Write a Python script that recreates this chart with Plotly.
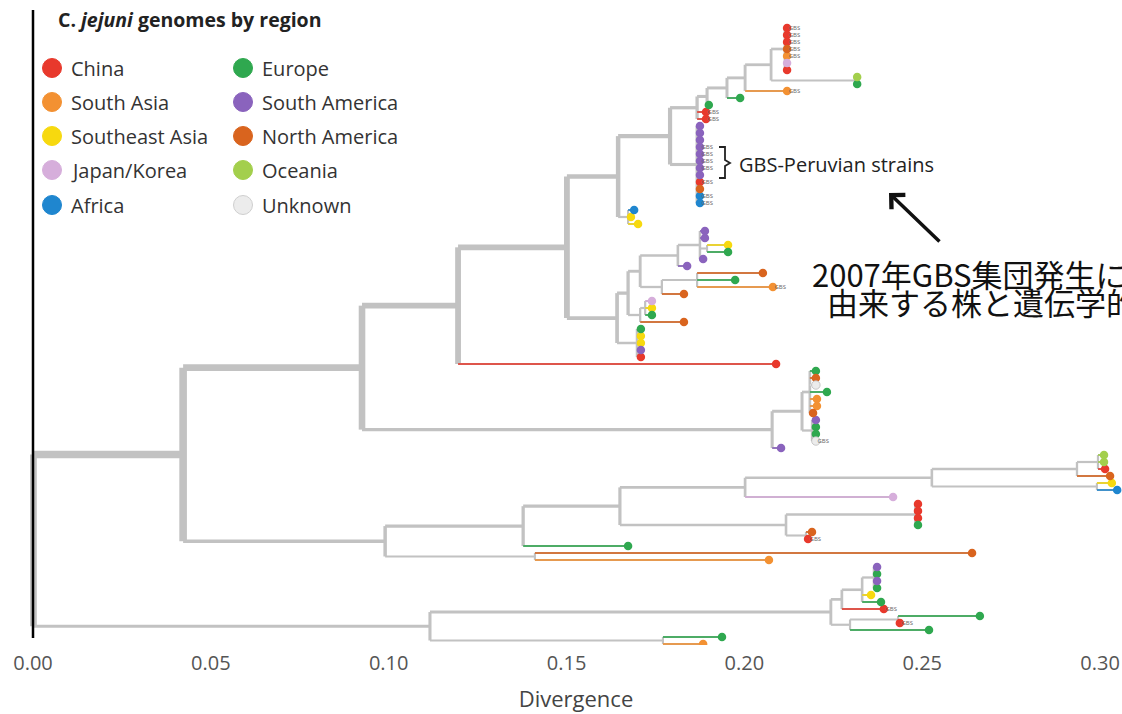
import plotly.graph_objects as go

# ---------------- data ----------------
region_names = ["China", "South Asia", "Southeast Asia", "Japan/Korea", "Africa",
                "Europe", "South America", "North America", "Oceania", "Unknown"]

# internal nodes: (name, parent, divergence)
internal_nodes = [
    ("root", None, 0.0),
    ("A", "root", 0.0422), ("G", "root", 0.1116),
    ("B", "A", 0.0925), ("C", "A", 0.0990),
    ("D", "B", 0.1195), ("E", "B", 0.2078),
    ("H", "D", 0.1501),
    ("I", "H", 0.1645), ("U", "H", 0.1642),
    ("J", "I", 0.1791), ("K", "I", 0.1673),
    ("N", "J", 0.1867), ("T", "J", 0.1867),
    ("V", "N", 0.1895), ("O", "V", 0.1951), ("P", "O", 0.2002), ("Q", "P", 0.2075),
    ("R", "Q", 0.2114), ("S", "Q", 0.2311),
    ("W", "U", 0.1673), ("X", "U", 0.1698),
    ("WA", "W", 0.1707), ("WB", "W", 0.1707),
    ("Z", "WA", 0.1813), ("ZA", "Z", 0.1875), ("ZB", "ZA", 0.1895),
    ("AA", "WA", 0.1768), ("AB", "AA", 0.1867),
    ("WC", "WB", 0.1721),
    ("F", "E", 0.2162), ("FA", "F", 0.2184), ("FB", "F", 0.2190),
    ("CA", "C", 0.1378), ("CK", "C", 0.1411),
    ("CB", "CA", 0.1650), ("CC", "CB", 0.2002), ("CE", "CB", 0.2117),
    ("CD", "CC", 0.2527), ("CH", "CD", 0.2935), ("CI", "CH", 0.2994), ("CJ", "CD", 0.2991),
    ("CF", "CE", 0.2480), ("CG", "CE", 0.2173),
    ("GA", "G", 0.2243), ("GB", "GA", 0.2274), ("GE", "GB", 0.2331), ("GG", "GE", 0.2364),
    ("GC", "GA", 0.2297), ("GD", "GC", 0.2432),
    ("GH", "G", 0.1771),
]

# tips, listed top to bottom: (region, divergence, GBS-label)
leaves_R = [("China", 0.2120, 1), ("China", 0.2120, 1), ("China", 0.2120, 1),
            ("North America", 0.2120, 1), ("South Asia", 0.2120, 1),
            ("Japan/Korea", 0.2120, 0), ("China", 0.2120, 0)]
leaves_S = [("Oceania", 0.2317, 0), ("Europe", 0.2317, 0)]
leaves_P = [("South Asia", 0.2120, 1)]
leaves_O = [("Europe", 0.1988, 0)]
leaves_V = [("Europe", 0.1900, 0)]
leaves_N = [("China", 0.1892, 1), ("China", 0.1892, 1)]
leaves_T = [("South America", 0.1875, 0), ("South America", 0.1875, 0), ("South America", 0.1875, 0),
            ("South America", 0.1875, 1), ("South America", 0.1875, 1), ("South America", 0.1875, 1),
            ("South America", 0.1875, 1), ("South America", 0.1875, 0), ("China", 0.1875, 1),
            ("North America", 0.1875, 0), ("Africa", 0.1875, 1), ("Africa", 0.1875, 1)]
leaves_K = [("Africa", 0.1690, 0), ("Southeast Asia", 0.1681, 0), ("Southeast Asia", 0.1701, 0)]
leaves_ZA1 = [("South America", 0.1889, 0), ("South America", 0.1889, 0)]
leaves_ZB = [("Southeast Asia", 0.1954, 0), ("Europe", 0.1954, 0)]
leaves_ZA2 = [("South America", 0.1884, 0)]
leaves_Z = [("South America", 0.1839, 0)]
leaves_AB = [("North America", 0.2052, 0), ("Europe", 0.1974, 0), ("South Asia", 0.2080, 1)]
leaves_AA = [("North America", 0.1830, 0)]
leaves_WC = [("Japan/Korea", 0.1740, 0), ("Southeast Asia", 0.1740, 0), ("Europe", 0.1740, 0)]
leaves_WB = [("North America", 0.1830, 0)]
leaves_X = [("Europe", 0.1709, 0), ("Southeast Asia", 0.1709, 0), ("Southeast Asia", 0.1709, 0),
            ("South America", 0.1709, 0), ("China", 0.1709, 0)]
leaves_D = [("China", 0.2089, 0)]
leaves_FA = [("Europe", 0.2201, 0), ("North America", 0.2201, 0), ("Unknown", 0.2201, 0),
             ("Europe", 0.2232, 0), ("South Asia", 0.2204, 0), ("South Asia", 0.2204, 0),
             ("North America", 0.2193, 0)]
leaves_FB = [("South America", 0.2201, 0), ("Europe", 0.2201, 0), ("Europe", 0.2201, 0),
             ("Unknown", 0.2201, 1)]
leaves_E = [("South America", 0.2103, 0)]
leaves_CI = [("Oceania", 0.3011, 0), ("Oceania", 0.3011, 0), ("China", 0.3014, 0)]
leaves_CH = [("North America", 0.3028, 0)]
leaves_CJ = [("Southeast Asia", 0.3033, 0), ("Africa", 0.3048, 0)]
leaves_CC = [("Japan/Korea", 0.2418, 0)]
leaves_CF = [("China", 0.2488, 0), ("China", 0.2488, 0), ("China", 0.2488, 0), ("Europe", 0.2488, 0)]
leaves_CG = [("North America", 0.2190, 0), ("China", 0.2179, 1)]
leaves_CA = [("Europe", 0.1673, 0)]
leaves_CK = [("North America", 0.2640, 0), ("South Asia", 0.2069, 0)]
leaves_GG = [("South America", 0.2373, 0), ("Europe", 0.2373, 0), ("South America", 0.2373, 0),
             ("Europe", 0.2373, 0)]
leaves_GE = [("Southeast Asia", 0.2356, 0), ("Europe", 0.2384, 0)]
leaves_GB = [("China", 0.2392, 1)]
leaves_GD = [("Europe", 0.2662, 0), ("China", 0.2437, 1)]
leaves_GC = [("Europe", 0.2519, 0)]
leaves_GH = [("Europe", 0.1937, 0), ("South Asia", 0.1884, 0)]

leaf_groups = [
    ("R", leaves_R), ("S", leaves_S), ("P", leaves_P), ("O", leaves_O), ("V", leaves_V),
    ("N", leaves_N), ("T", leaves_T), ("K", leaves_K), ("ZA", leaves_ZA1), ("ZB", leaves_ZB),
    ("ZA", leaves_ZA2), ("Z", leaves_Z), ("AB", leaves_AB), ("AA", leaves_AA), ("WC", leaves_WC),
    ("WB", leaves_WB), ("X", leaves_X), ("D", leaves_D), ("FA", leaves_FA), ("FB", leaves_FB),
    ("E", leaves_E), ("CI", leaves_CI), ("CH", leaves_CH), ("CJ", leaves_CJ), ("CC", leaves_CC),
    ("CF", leaves_CF), ("CG", leaves_CG), ("CA", leaves_CA), ("CK", leaves_CK), ("GG", leaves_GG),
    ("GE", leaves_GE), ("GB", leaves_GB), ("GD", leaves_GD), ("GC", leaves_GC), ("GH", leaves_GH),
]

tick_values = [0.00, 0.05, 0.10, 0.15, 0.20, 0.25, 0.30]

# ---------------- styles ----------------
region_colors = {
    "China": "#e8392c", "South Asia": "#f39132", "Southeast Asia": "#f7d90f",
    "Japan/Korea": "#d6aedb", "Africa": "#1f86cf", "Europe": "#2fa84f",
    "South America": "#8a63bd", "North America": "#d9641e", "Oceania": "#a3cf4c",
    "Unknown": "#ececec",
}
GRAY = "#c2c2c2"
PX_PER_UNIT = 3557.0   # horizontal scale of the reference
X0_PX = 33.0
TIP_STEP = 7.0         # vertical pixels per tip
TIP0_PX = 28.0


def px_x(p):   # pixel -> divergence (for layout decorations)
    return (p - X0_PX) / PX_PER_UNIT


def px_y(p):   # pixel -> tip rank (for layout decorations)
    return (p - TIP0_PX) / TIP_STEP


# ---------------- build tree ----------------
div = {}
parent = {}
children = {}
for name, par, d in internal_nodes:
    div[name] = d
    parent[name] = par
    children.setdefault(name, [])
    if par is not None:
        children.setdefault(par, []).append(name)

leaf_info = {}
rank = 0
for par, items in leaf_groups:
    for region, d, gbs in items:
        lid = f"leaf{rank}"
        div[lid] = d
        parent[lid] = par
        children.setdefault(par, []).append(lid)
        leaf_info[lid] = (region, gbs, rank)
        rank += 1

ypos = {}
nleaf = {}
regions_under = {}


def layout_node(n):
    if n in leaf_info:
        ypos[n] = leaf_info[n][2]
        nleaf[n] = 1
        regions_under[n] = {leaf_info[n][0]}
        return
    ys = []
    cnt = 0
    regs = set()
    for c in children[n]:
        layout_node(c)
        ys.append(ypos[c])
        cnt += nleaf[c]
        regs |= regions_under[c]
    ypos[n] = (min(ys) + max(ys)) / 2.0
    nleaf[n] = cnt
    regions_under[n] = regs


layout_node("root")
N_REF = nleaf["A"]


def width_of(n):
    return min(7.6, 1.8 + 5.8 * (nleaf[n] / N_REF) ** 0.8)


def mix(hexcol, amt=0.78):
    h = hexcol.lstrip("#")
    r, g, b = int(h[0:2], 16), int(h[2:4], 16), int(h[4:6], 16)
    gr = 0xbb
    r = int(r * amt + gr * (1 - amt)); g = int(g * amt + gr * (1 - amt)); b = int(b * amt + gr * (1 - amt))
    return f"rgb({r},{g},{b})"


def color_of(n):
    regs = regions_under[n]
    if len(regs) == 1:
        reg = next(iter(regs))
        if reg == "Unknown":
            return "#d8d8d8"
        return mix(region_colors[reg])
    return GRAY


segments = {}
for n in div:
    w = round(width_of(n), 1)
    col = color_of(n)
    key = (col, w)
    segs = segments.setdefault(key, ([], []))
    par = parent[n]
    if par is not None:
        segs[0].extend([div[par], div[n], None])
        segs[1].extend([ypos[n], ypos[n], None])
    if n not in leaf_info:
        ys = [ypos[c] for c in children[n]]
        segs[0].extend([div[n], div[n], None])
        segs[1].extend([min(ys), max(ys), None])

fig = go.Figure()
for (col, w) in sorted(segments, key=lambda k: (k[0] != GRAY, -k[1])):
    xs, ys = segments[(col, w)]
    fig.add_trace(go.Scatter(x=xs, y=ys, mode="lines",
                             line=dict(color=col, width=w),
                             hoverinfo="skip", showlegend=False))

# tip dots
for reg in region_names:
    ids = [l for l in leaf_info if leaf_info[l][0] == reg]
    if not ids:
        continue
    fig.add_trace(go.Scatter(
        x=[div[l] for l in ids], y=[ypos[l] for l in ids], mode="markers",
        marker=dict(size=8.5, color=region_colors[reg],
                    line=dict(width=0.8 if reg == "Unknown" else 0, color="#bdbdbd")),
        hovertext=[reg] * len(ids), hoverinfo="text", showlegend=False))

# GBS labels
gbs_ids = [l for l in leaf_info if leaf_info[l][1]]
fig.add_trace(go.Scatter(
    x=[div[l] for l in gbs_ids], y=[ypos[l] for l in gbs_ids], mode="text",
    text=[" GBS"] * len(gbs_ids), textposition="middle right",
    textfont=dict(size=6, color="#666666", family="Open Sans"),
    hoverinfo="skip", showlegend=False, cliponaxis=False))

# ---------------- legend (drawn) ----------------
leg_cols = [52, 243]
leg_rows = [68, 102, 136, 170, 205]
leg_x, leg_y, leg_c, leg_l = [], [], [], []
for i, reg in enumerate(region_names):
    col = i // 5
    row = i % 5
    leg_x.append(px_x(leg_cols[col]))
    leg_y.append(px_y(leg_rows[row]))
    leg_c.append(region_colors[reg])
    leg_l.append("#cfcfcf" if reg == "Unknown" else region_colors[reg])
fig.add_trace(go.Scatter(x=leg_x, y=leg_y, mode="markers",
                         marker=dict(size=19, color=leg_c, line=dict(width=1, color=leg_l)),
                         hoverinfo="skip", showlegend=False, cliponaxis=False))

annotations = []
for i, reg in enumerate(region_names):
    col = i // 5
    row = i % 5
    annotations.append(dict(x=px_x(leg_cols[col] + 17), y=px_y(leg_rows[row]), xref="x", yref="y",
                            text=reg, showarrow=False, xanchor="left", yanchor="middle",
                            font=dict(size=20, color="#333333", family="Open Sans")))
annotations.append(dict(x=px_x(56), y=px_y(19), xref="x", yref="y",
                        text="<b>C. <i>jejuni</i> genomes by region</b>", showarrow=False,
                        xanchor="left", yanchor="middle",
                        font=dict(size=19.5, color="#222222", family="Open Sans")))
annotations.append(dict(x=px_x(737), y=px_y(164), xref="x", yref="y",
                        text="GBS-Peruvian strains", showarrow=False, xanchor="left", yanchor="middle",
                        font=dict(size=20, color="#222222", family="Open Sans")))
annotations.append(dict(x=px_x(889), y=px_y(193), xref="x", yref="y",
                        ax=px_x(941), ay=px_y(243), axref="x", ayref="y",
                        text="", showarrow=True, arrowhead=4, arrowsize=1.1, arrowwidth=3.5,
                        arrowcolor="#111111"))
annotations.append(dict(x=px_x(810), y=px_y(273), xref="x", yref="y",
                        text="2007年GBS集団発生に", showarrow=False, xanchor="left", yanchor="middle",
                        font=dict(size=31, color="#111111", family="Noto Sans CJK JP")))
annotations.append(dict(x=px_x(825), y=px_y(301), xref="x", yref="y",
                        text="由来する株と遺伝学的に近い", showarrow=False, xanchor="left", yanchor="middle",
                        font=dict(size=31, color="#111111", family="Noto Sans CJK JP")))

shapes = [
    dict(type="line", xref="x", yref="y", x0=0, x1=0, y0=px_y(10), y1=px_y(638),
         line=dict(color="black", width=2.5), layer="above"),
    dict(type="path", xref="x", yref="y",
         path=(f"M {px_x(719)},{px_y(147)} L {px_x(725)},{px_y(147)} L {px_x(725)},{px_y(160)} "
               f"L {px_x(730)},{px_y(163)} L {px_x(725)},{px_y(166)} L {px_x(725)},{px_y(178)} "
               f"L {px_x(719)},{px_y(178)}"),
         line=dict(color="#222222", width=1.8)),
]

fig.update_layout(
    width=1122, height=714, autosize=False,
    margin=dict(l=30, r=0, t=0, b=69, autoexpand=False),
    paper_bgcolor="white", plot_bgcolor="white",
    font=dict(family="Open Sans"),
    annotations=annotations, shapes=shapes,
    xaxis=dict(range=[px_x(30), px_x(1122)], showgrid=False, zeroline=False, showline=False,
               automargin=False,
               tickvals=tick_values, ticktext=[f"{v:.2f}" for v in tick_values],
               ticks="outside", ticklen=0, tickcolor="rgba(0,0,0,0)",
               tickfont=dict(size=20, color="#555555", family="Open Sans"),
               title=dict(text="Divergence", standoff=16,
                          font=dict(size=22, color="#444444", family="Open Sans"))),
    yaxis=dict(range=[px_y(645), px_y(0)], showgrid=False, zeroline=False, showline=False,
               automargin=False, showticklabels=False, ticks=""),
)

fig.write_html("out.html", config={"displayModeBar": False},
               post_script="document.body.style.margin='0';document.body.style.overflow='hidden';")
